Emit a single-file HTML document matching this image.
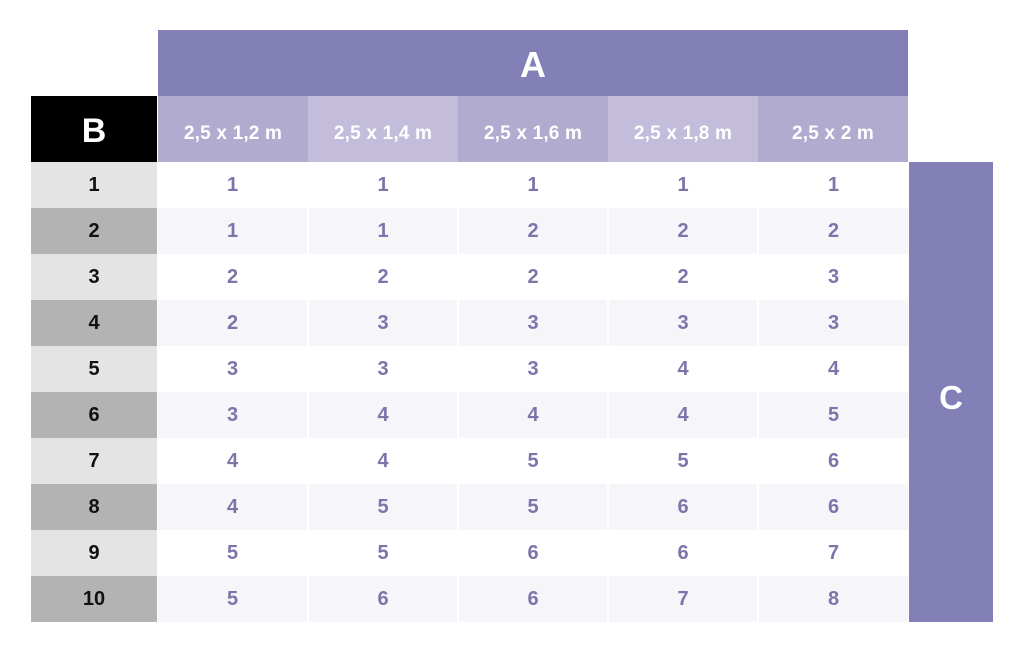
<!DOCTYPE html>
<html>
<head>
<meta charset="utf-8">
<style>
html,body{margin:0;padding:0;background:#ffffff;}
body{width:1024px;height:653px;position:relative;overflow:hidden;font-family:"Liberation Sans",sans-serif;}
.a{position:absolute;box-sizing:border-box;display:flex;align-items:center;justify-content:center;}
.hA{left:158px;top:30px;width:750px;height:66px;background:#837fb7;color:#fff;font-weight:bold;font-size:36px;padding-top:3px;}
.hB{left:31px;top:96px;width:126px;height:66px;background:#000;color:#fff;font-weight:bold;font-size:34px;padding-top:4px;}
.hC{left:909px;top:162px;width:84px;height:460px;background:#837fb7;color:#fff;font-weight:bold;font-size:33px;padding-top:12px;}
.hc{top:96px;width:150px;height:66px;color:#fff;font-weight:bold;font-size:19px;letter-spacing:0.2px;padding-top:10px;}
.dk{background:#b1abcf;}
.lt{background:#c3bddb;}
.rb{left:31px;width:126px;height:46px;color:#111;font-size:20px;font-weight:bold;}
.ro{background:#e4e4e4;}
.re{background:#b3b3b3;}
.c{height:46px;color:#7b76a9;font-size:20px;font-weight:bold;}
.ce{background:#f6f5fa;}
</style>
</head>
<body>
<div class="a hA">A</div>
<div class="a hB">B</div>
<div class="a hC">C</div>
<div class="a hc dk" style="left:158px">2,5 x 1,2 m</div>
<div class="a hc lt" style="left:308px">2,5 x 1,4 m</div>
<div class="a hc dk" style="left:458px">2,5 x 1,6 m</div>
<div class="a hc lt" style="left:608px">2,5 x 1,8 m</div>
<div class="a hc dk" style="left:758px">2,5 x 2 m</div>

<div class="a rb ro" style="top:162px">1</div>
<div class="a rb re" style="top:208px">2</div>
<div class="a rb ro" style="top:254px">3</div>
<div class="a rb re" style="top:300px">4</div>
<div class="a rb ro" style="top:346px">5</div>
<div class="a rb re" style="top:392px">6</div>
<div class="a rb ro" style="top:438px">7</div>
<div class="a rb re" style="top:484px">8</div>
<div class="a rb ro" style="top:530px">9</div>
<div class="a rb re" style="top:576px">10</div>

<!-- row 1 -->
<div class="a c" style="top:162px;left:158px;width:149px">1</div>
<div class="a c" style="top:162px;left:309px;width:148px">1</div>
<div class="a c" style="top:162px;left:459px;width:148px">1</div>
<div class="a c" style="top:162px;left:609px;width:148px">1</div>
<div class="a c" style="top:162px;left:759px;width:149px">1</div>
<!-- row 2 -->
<div class="a c ce" style="top:208px;left:158px;width:149px">1</div>
<div class="a c ce" style="top:208px;left:309px;width:148px">1</div>
<div class="a c ce" style="top:208px;left:459px;width:148px">2</div>
<div class="a c ce" style="top:208px;left:609px;width:148px">2</div>
<div class="a c ce" style="top:208px;left:759px;width:149px">2</div>
<!-- row 3 -->
<div class="a c" style="top:254px;left:158px;width:149px">2</div>
<div class="a c" style="top:254px;left:309px;width:148px">2</div>
<div class="a c" style="top:254px;left:459px;width:148px">2</div>
<div class="a c" style="top:254px;left:609px;width:148px">2</div>
<div class="a c" style="top:254px;left:759px;width:149px">3</div>
<!-- row 4 -->
<div class="a c ce" style="top:300px;left:158px;width:149px">2</div>
<div class="a c ce" style="top:300px;left:309px;width:148px">3</div>
<div class="a c ce" style="top:300px;left:459px;width:148px">3</div>
<div class="a c ce" style="top:300px;left:609px;width:148px">3</div>
<div class="a c ce" style="top:300px;left:759px;width:149px">3</div>
<!-- row 5 -->
<div class="a c" style="top:346px;left:158px;width:149px">3</div>
<div class="a c" style="top:346px;left:309px;width:148px">3</div>
<div class="a c" style="top:346px;left:459px;width:148px">3</div>
<div class="a c" style="top:346px;left:609px;width:148px">4</div>
<div class="a c" style="top:346px;left:759px;width:149px">4</div>
<!-- row 6 -->
<div class="a c ce" style="top:392px;left:158px;width:149px">3</div>
<div class="a c ce" style="top:392px;left:309px;width:148px">4</div>
<div class="a c ce" style="top:392px;left:459px;width:148px">4</div>
<div class="a c ce" style="top:392px;left:609px;width:148px">4</div>
<div class="a c ce" style="top:392px;left:759px;width:149px">5</div>
<!-- row 7 -->
<div class="a c" style="top:438px;left:158px;width:149px">4</div>
<div class="a c" style="top:438px;left:309px;width:148px">4</div>
<div class="a c" style="top:438px;left:459px;width:148px">5</div>
<div class="a c" style="top:438px;left:609px;width:148px">5</div>
<div class="a c" style="top:438px;left:759px;width:149px">6</div>
<!-- row 8 -->
<div class="a c ce" style="top:484px;left:158px;width:149px">4</div>
<div class="a c ce" style="top:484px;left:309px;width:148px">5</div>
<div class="a c ce" style="top:484px;left:459px;width:148px">5</div>
<div class="a c ce" style="top:484px;left:609px;width:148px">6</div>
<div class="a c ce" style="top:484px;left:759px;width:149px">6</div>
<!-- row 9 -->
<div class="a c" style="top:530px;left:158px;width:149px">5</div>
<div class="a c" style="top:530px;left:309px;width:148px">5</div>
<div class="a c" style="top:530px;left:459px;width:148px">6</div>
<div class="a c" style="top:530px;left:609px;width:148px">6</div>
<div class="a c" style="top:530px;left:759px;width:149px">7</div>
<!-- row 10 -->
<div class="a c ce" style="top:576px;left:158px;width:149px">5</div>
<div class="a c ce" style="top:576px;left:309px;width:148px">6</div>
<div class="a c ce" style="top:576px;left:459px;width:148px">6</div>
<div class="a c ce" style="top:576px;left:609px;width:148px">7</div>
<div class="a c ce" style="top:576px;left:759px;width:149px">8</div>
</body>
</html>
